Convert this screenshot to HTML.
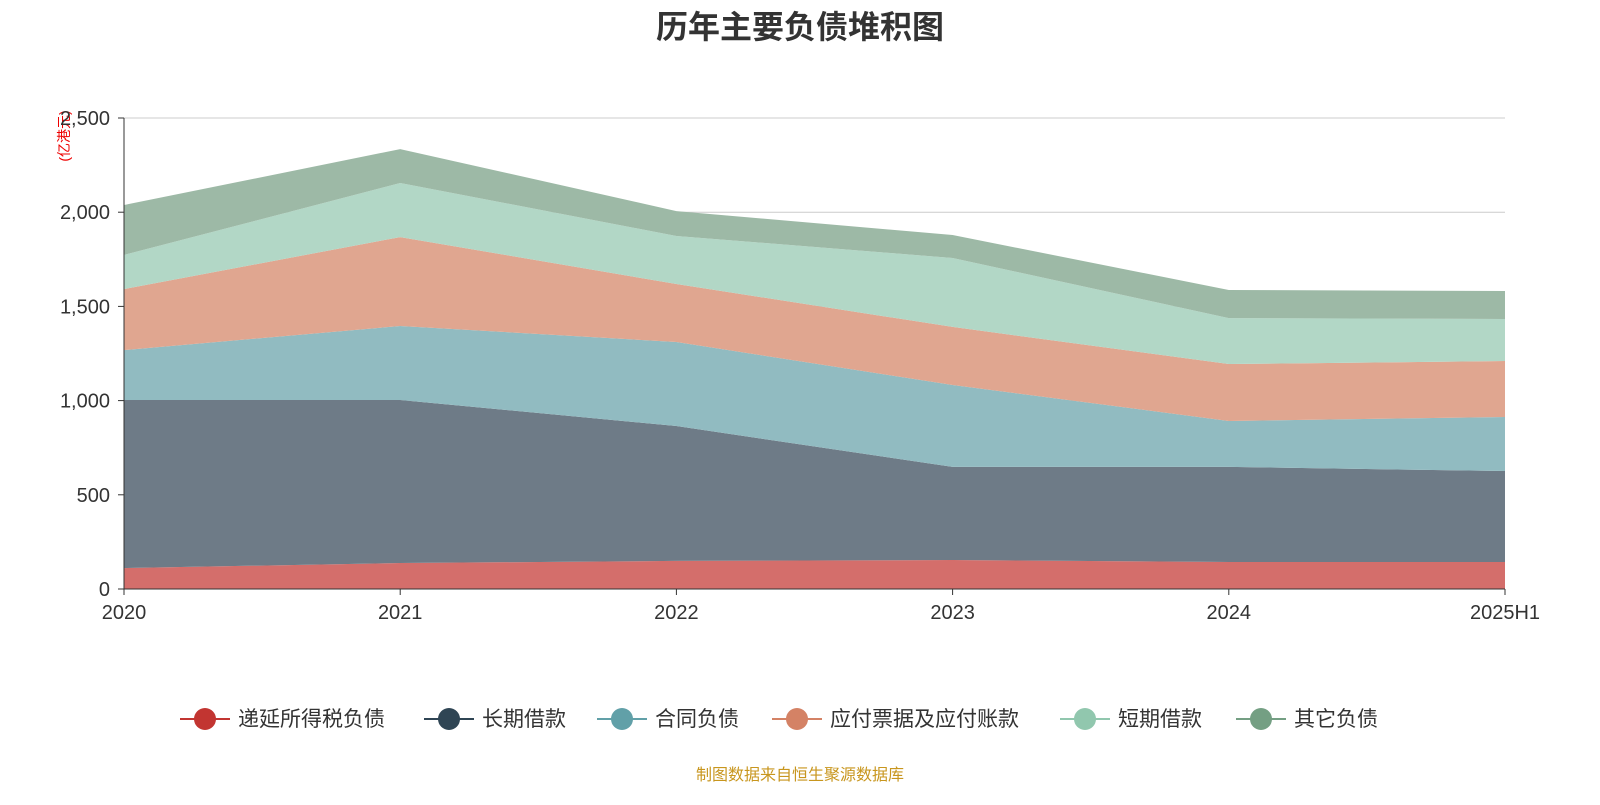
<!DOCTYPE html>
<html><head><meta charset="utf-8"><style>
body{margin:0;background:#fff;width:1600px;height:800px;overflow:hidden;font-family:"Liberation Sans","Noto Sans CJK SC",sans-serif;}
</style></head><body>
<svg id="chart" width="1600" height="800" xmlns="http://www.w3.org/2000/svg" font-family="Liberation Sans, Noto Sans CJK SC, sans-serif">
<text x="800" y="38" text-anchor="middle" font-size="32" font-weight="bold" fill="#333">历年主要负债堆积图</text>
<text transform="translate(69,136) rotate(-90)" text-anchor="middle" font-size="14" fill="#e00">(亿港元)</text>
<g id="grid"></g><g id="areas"></g><g id="axes"></g><g id="legend"></g>
<text x="800" y="780" text-anchor="middle" font-size="16" fill="#c8961e">制图数据来自恒生聚源数据库</text>
</svg>
<script>
const categories=["2020","2021","2022","2023","2024","2025H1"];
const seriesNames=["递延所得税负债","长期借款","合同负债","应付票据及应付账款","短期借款","其它负债"];
const deferredTax=[111,138,149,154,143,143];
const longLoans=[892,865,716,494,505,483];
const contractLiab=[265,393,446,435,244,287];
const payables=[324,472,308,308,302,297];
const shortLoans=[181,287,255,366,244,223];
const otherLiab=[265,180,132,122,149,149];
const yTicks=[0,500,1000,1500,2000,2500];
const yTickLabels=["0","500","1,000","1,500","2,000","2,500"];
const series=[deferredTax,longLoans,contractLiab,payables,shortLoans,otherLiab];
const fills=["#d46e6b","#6e7b87","#91bbc1","#e0a690","#b2d7c6","#9db9a6"];
const lineCols=["#c23531","#2f4554","#61a0a8","#d48265","#91c7ae","#749f83"];
const NS="http://www.w3.org/2000/svg";
const x0=124,x1=1505,yB=589,yT=118,yMax=2500;
const xs=i=>x0+(x1-x0)*i/(categories.length-1);
const ys=v=>yB-(yB-yT)*v/yMax;
function mk(t,a,p){const e=document.createElementNS(NS,t);for(const k in a)e.setAttribute(k,a[k]);p.appendChild(e);return e;}
const grid=document.getElementById('grid'),axes=document.getElementById('axes'),areas=document.getElementById('areas'),legend=document.getElementById('legend');
yTicks.forEach((v,i)=>{
 const l=mk('line',{x1:x0,x2:x1,y1:ys(v),y2:ys(v),stroke:'#ccc'},grid);
 
 
 const tk=mk('line',{x1:x0-6,x2:x0,y1:ys(v),y2:ys(v),stroke:'#333'},axes);
 
 
 const t=mk('text',{x:x0-14,y:ys(v)+7,'text-anchor':'end','font-size':20,fill:'#333'},axes);
 t.textContent=yTickLabels[i];
 
 
});
let cum=categories.map(()=>0);
series.forEach((s,k)=>{
 const lo=cum.slice();const hi=cum.map((c,i)=>c+s[i]);
 let d='';hi.forEach((v,i)=>d+=(i?'L':'M')+xs(i)+','+ys(v));
 for(let i=lo.length-1;i>=0;i--)d+='L'+xs(i)+','+ys(lo[i]);
 const p=mk('path',{d:d+'Z',fill:fills[k]},areas);
 
 
 cum=hi;
});
mk('line',{x1:x0,x2:x0,y1:yT,y2:yB,stroke:'#333'},axes);
mk('line',{x1:x0,x2:x1,y1:yB,y2:yB,stroke:'#333'},axes);
categories.forEach((c,i)=>{
 const tk=mk('line',{x1:xs(i),x2:xs(i),y1:yB,y2:yB+6,stroke:'#333'},axes);
 
 
 const t=mk('text',{x:xs(i),y:619,'text-anchor':'middle','font-size':20,fill:'#333'},axes);
 t.textContent=c;
 
 
});
const legX=[180,424,597,772,1060,1236];
seriesNames.forEach((n,k)=>{
 const g=mk('g',{},legend);
 
 
 const x=legX[k];
 mk('line',{x1:x,x2:x+50,y1:719,y2:719,stroke:lineCols[k],'stroke-width':2},g);
 mk('circle',{cx:x+25,cy:719,r:11,fill:lineCols[k]},g);
 const t=mk('text',{x:x+58,y:726,'font-size':21,fill:'#333'},g);t.textContent=n;
});
</script>
</body></html>
